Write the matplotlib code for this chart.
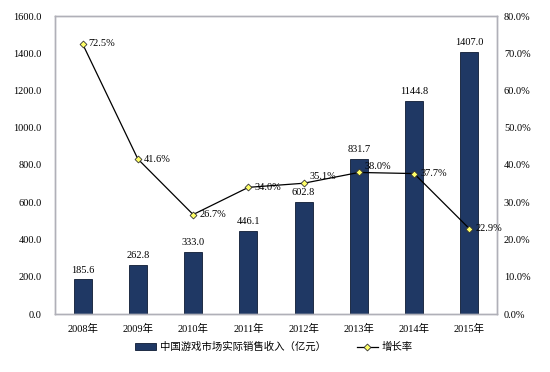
import matplotlib
matplotlib.use("Agg")
import matplotlib.pyplot as plt
from matplotlib.ticker import FuncFormatter, MultipleLocator

plt.rcParams['font.family'] = ['Liberation Serif', 'Noto Sans CJK SC', 'DejaVu Sans']

years = ['2008年', '2009年', '2010年', '2011年', '2012年', '2013年', '2014年', '2015年']
revenue = [185.6, 262.8, 333.0, 446.1, 602.8, 831.7, 1144.8, 1407.0]
growth = [72.5, 41.6, 26.7, 34.0, 35.1, 38.0, 37.7, 22.9]

fig = plt.figure(figsize=(5.5, 3.72), dpi=100)
ax = fig.add_axes([55/550, 1-314/372, 442/550, 298/372])
ax2 = ax.twinx()

x = list(range(len(years)))
ax.bar(x, revenue, width=0.33, color='#1F3864', edgecolor='#0d1a33', linewidth=0.6,
       label='中国游戏市场实际销售收入（亿元）', zorder=2)
for xi, v in zip(x, revenue):
    ax.text(xi, v + 25, f'{v:.1f}', ha='center', va='bottom', fontsize=7.5)

ax.set_xlim(-0.5, 7.5)
ax.set_ylim(0, 1600)
ax.yaxis.set_major_locator(MultipleLocator(200))
ax.yaxis.set_major_formatter(FuncFormatter(lambda v, p: f'{v:.1f}'))
ax.set_xticks(x)
ax.set_xticklabels(years)
ax.tick_params(axis='y', length=0, labelsize=7.5, pad=9.5)
ax.tick_params(axis='x', length=0, labelsize=7.5, pad=7)

ax2.plot(x, growth, color='black', linewidth=0.9, marker='D', markersize=3.5,
         markerfacecolor='#FFFF66', markeredgecolor='#333333', markeredgewidth=0.6,
         label='增长率', zorder=3)
# small vertical nudges (in percentage points) for labels that would collide
nudge = {4: 1.7, 5: 1.7}
for i, (xi, g) in enumerate(zip(x, growth)):
    ax2.text(xi + 0.11, g + nudge.get(i, 0), f'{g:.1f}%', ha='left', va='center', fontsize=7.5)
ax2.set_ylim(0, 80)
ax2.yaxis.set_major_locator(MultipleLocator(10))
ax2.yaxis.set_major_formatter(FuncFormatter(lambda v, p: f'{v:.1f}%'))
ax2.tick_params(axis='y', length=0, labelsize=7.5, pad=5)

for a in (ax, ax2):
    for s in a.spines.values():
        s.set_color('#b0b0b8')
        s.set_linewidth(1.0)

h1, l1 = ax.get_legend_handles_labels()
h2, l2 = ax2.get_legend_handles_labels()
fig.legend(h1 + h2, l1 + l2, loc='center', bbox_to_anchor=(274/550, 1 - 347/372),
           ncol=2, frameon=False, handlelength=2.0, handletextpad=0.35, columnspacing=3.0,
           prop={'family': ['Noto Sans CJK SC'], 'size': 7.5})

fig.savefig('out.png', dpi=100)
